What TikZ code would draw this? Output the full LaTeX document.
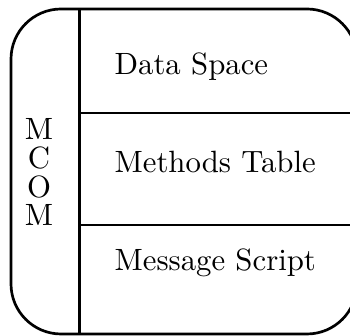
\documentclass[tikz,border=0pt]{standalone}
\begin{document}
\begin{tikzpicture}[x=0.33333bp,y=-0.33333bp,
  font=\fontsize{10.3}{12.4}\selectfont,
  outer/.style={line width=0.9pt},
  divider/.style={line width=0.7pt},
  sectionlabel/.style={inner sep=0pt, anchor=base west},
  letter/.style={inner sep=0pt, anchor=base}]
\useasboundingbox (0,0) rectangle (350,336);
\clip (0,0) rectangle (350,336);
% outer rounded frame (right side runs past the page edge)
\draw[outer, rounded corners=16.7bp] (11,9) rectangle (357,334);
% vertical divider
\draw[divider] (79.5,9) -- (79.5,334);
% horizontal dividers
\draw[divider] (79.5,113) -- (357,113);
\draw[divider] (79.5,225) -- (357,225);
% section labels
\node[sectionlabel] (data) at (114,75) {Data Space};
\node[sectionlabel] (methods) at (114,172.5) {Methods Table};
\node[sectionlabel] (message) at (114,271) {Message Script};
% vertical MCOM
\node[letter] (m1) at (39,140) {M};
\node[letter] (c) at (39,169) {C};
\node[letter] (o) at (39,197.5) {O};
\node[letter] (m2) at (39,226) {M};
\end{tikzpicture}
\end{document}
